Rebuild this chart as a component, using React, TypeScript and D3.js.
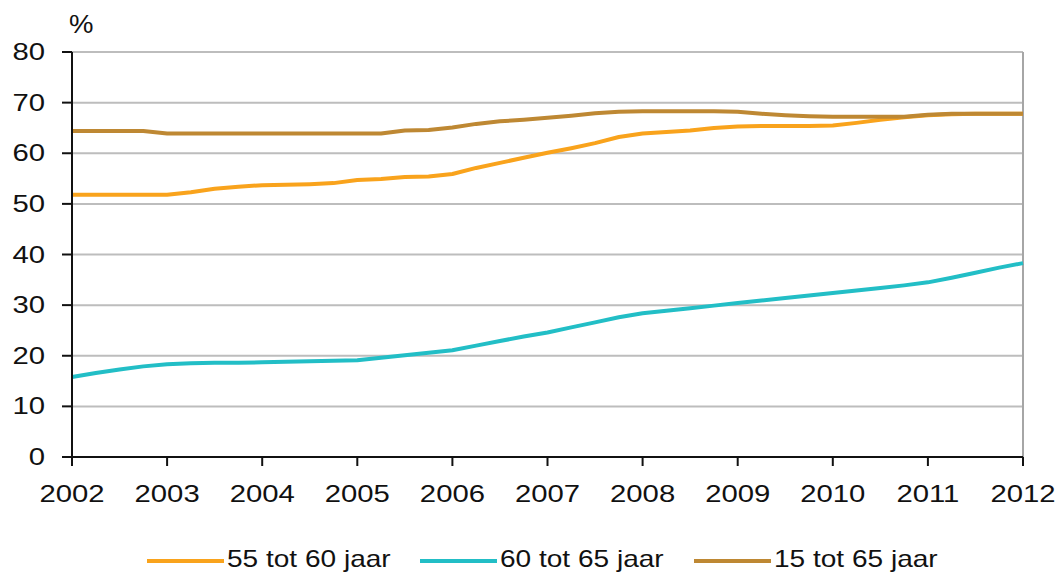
import * as d3 from 'd3';

// quarterly periods, as decimal years
const periods = [
  2002, 2002.25, 2002.5, 2002.75, 2003, 2003.25, 2003.5, 2003.75,
  2004, 2004.25, 2004.5, 2004.75, 2005, 2005.25, 2005.5, 2005.75,
  2006, 2006.25, 2006.5, 2006.75, 2007, 2007.25, 2007.5, 2007.75,
  2008, 2008.25, 2008.5, 2008.75, 2009, 2009.25, 2009.5, 2009.75,
  2010, 2010.25, 2010.5, 2010.75, 2011, 2011.25, 2011.5, 2011.75, 2012,
];

const age55to60 = [
  51.8, 51.8, 51.8, 51.8, 51.8, 52.3, 53.0, 53.4,
  53.7, 53.8, 53.9, 54.1, 54.7, 54.9, 55.3, 55.4,
  55.9, 57.1, 58.1, 59.1, 60.1, 61.0, 62.0, 63.2,
  63.9, 64.2, 64.5, 65.0, 65.3, 65.4, 65.4, 65.4,
  65.5, 66.0, 66.6, 67.1, 67.5, 67.7, 67.8, 67.8, 67.8,
];

const age60to65 = [
  15.8, 16.6, 17.3, 17.9, 18.3, 18.5, 18.6, 18.6,
  18.7, 18.8, 18.9, 19.0, 19.1, 19.6, 20.1, 20.6,
  21.1, 22.0, 22.9, 23.8, 24.6, 25.6, 26.6, 27.6,
  28.4, 28.9, 29.4, 29.9, 30.4, 30.9, 31.4, 31.9,
  32.4, 32.9, 33.4, 33.9, 34.5, 35.4, 36.4, 37.4, 38.3,
];

const age15to65 = [
  64.4, 64.4, 64.4, 64.4, 63.9, 63.9, 63.9, 63.9,
  63.9, 63.9, 63.9, 63.9, 63.9, 63.9, 64.5, 64.6,
  65.1, 65.8, 66.3, 66.6, 67.0, 67.4, 67.9, 68.2,
  68.3, 68.3, 68.3, 68.3, 68.2, 67.8, 67.5, 67.3,
  67.2, 67.2, 67.2, 67.2, 67.6, 67.8, 67.8, 67.8, 67.8,
];

const yearTicks = [2002, 2003, 2004, 2005, 2006, 2007, 2008, 2009, 2010, 2011, 2012];
const valueTicks = [0, 10, 20, 30, 40, 50, 60, 70, 80];

const series = [
  { name: '55 tot 60 jaar', values: age55to60, color: '#F9A31C' },
  { name: '60 tot 65 jaar', values: age60to65, color: '#22BEC6' },
  { name: '15 tot 65 jaar', values: age15to65, color: '#BE8833' },
];

const W = 1057;
const H = 574;
const FONT = 'Liberation Sans, Arial, sans-serif';
const SX = 1.22; // reference text is stretched horizontally

export default function App() {
  const x = d3.scaleLinear().domain([2002, 2012]).range([72, 1023]);
  const y = d3.scaleLinear().domain([0, 80]).range([457, 52]);

  const line = d3.line<number>()
    .x((_, i) => x(periods[i]))
    .y((d) => y(d));

  const legendX = [147, 420, 694];

  return (
    <div style={{ position: 'absolute', left: 0, top: 0 }}>
      <svg width={W} height={H} style={{ display: 'block', background: '#fff' }}>
        {/* grid */}
        {valueTicks.filter((v) => v > 0).map((v) => (
          <line key={v} x1={x(2002)} x2={x(2012)} y1={y(v)} y2={y(v)}
            stroke="#BDBDBD" strokeWidth={2} />
        ))}
        <line x1={x(2012)} x2={x(2012)} y1={y(80)} y2={y(0)} stroke="#A6A6A6" strokeWidth={2} />

        {/* series */}
        {series.map((s) => (
          <path key={s.name} d={line(s.values) ?? ''} fill="none" stroke={s.color}
            strokeWidth={4} strokeLinejoin="round" />
        ))}

        {/* y axis */}
        <line x1={x(2002)} x2={x(2002)} y1={y(80)} y2={y(0)} stroke="#111" strokeWidth={2} />
        {valueTicks.map((v) => (
          <g key={v}>
            <line x1={62} x2={x(2002)} y1={y(v)} y2={y(v)} stroke="#111" strokeWidth={2} />
            <text transform={`translate(45,${y(v)}) scale(${SX},1)`} textAnchor="end"
              dominantBaseline="central" fontFamily={FONT} fontSize={24} fill="#111">{v}</text>
          </g>
        ))}

        {/* x axis */}
        <line x1={x(2002)} x2={x(2012)} y1={y(0)} y2={y(0)} stroke="#111" strokeWidth={2} />
        {yearTicks.map((t) => (
          <g key={t}>
            <line x1={x(t)} x2={x(t)} y1={y(0)} y2={y(0) + 9} stroke="#111" strokeWidth={2} />
            <text transform={`translate(${x(t)},494) scale(${SX},1)`} textAnchor="middle"
              dominantBaseline="central" fontFamily={FONT} fontSize={24} fill="#111">{t}</text>
          </g>
        ))}

        <text transform={`translate(69,24) scale(1.1,1)`} dominantBaseline="central"
          fontFamily={FONT} fontSize={25} fill="#111">%</text>

        {/* legend */}
        {series.map((s, i) => (
          <g key={s.name}>
            <line x1={legendX[i]} x2={legendX[i] + 77} y1={561} y2={561} stroke={s.color} strokeWidth={4} />
            <text transform={`translate(${legendX[i] + 80},559) scale(${SX},1)`} dominantBaseline="central"
              fontFamily={FONT} fontSize={23} fill="#111">{s.name}</text>
          </g>
        ))}
      </svg>
    </div>
  );
}
